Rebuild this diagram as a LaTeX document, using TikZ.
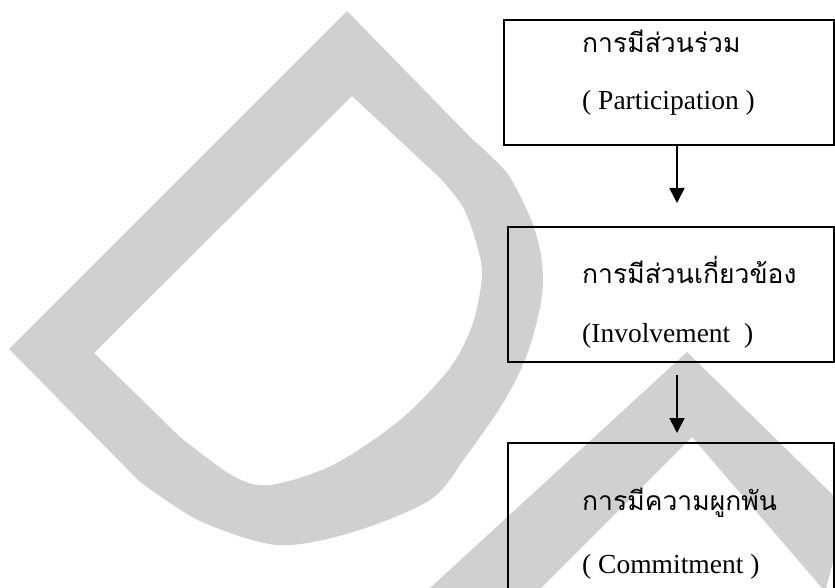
\documentclass[tikz,border=0pt]{standalone}
\usepackage{fontspec}
\setmainfont{Liberation Serif}
\newfontfamily\thaifont[Script=Thai]{Loma}
\usetikzlibrary{arrows.meta}
\definecolor{wm}{RGB}{208,208,208}
\tikzset{
  box/.style={draw=black, line width=1.8pt, fill=none, inner sep=0pt, outer sep=0pt, anchor=north west},
  thtxt/.style={anchor=base west, inner sep=0pt, font=\thaifont\fontsize{26.5}{30}\selectfont},
  entxt/.style={anchor=base west, inner sep=0pt, font=\fontsize{27.5}{32}\selectfont},
  arr/.style={line width=1.8pt, -{Triangle[width=15pt,length=15pt]}},
  wmfill/.style={fill=wm, draw=none, even odd rule}
}
\begin{document}
\begin{tikzpicture}[x=1pt,y=-1pt]
\useasboundingbox (0,0) rectangle (835,588);
\clip (0,0) rectangle (835,588);
% watermark D shape
\path[wmfill]
  (347,11) -- (9,349) -- plot[smooth] coordinates {(140,482) (200,521) (277,545) (350,533) (430,500) (467,455) (503,403) (525,360) (538,317) (543,283) (540,250) (530,217) (507,173) (473,140)} -- cycle
  (352,96) -- (94,353) -- plot[smooth] coordinates {(180,437) (233,476) (270,485) (333,465) (400,420) (450,368) (473,323) (482,276) (477,245) (463,207) (440,178)} -- cycle;
% watermark chevron
\path[wmfill]
  (430,588) -- (687,352) -- (835,497) -- (835,555) -- (826,588) -- (822,588) -- (692,437) -- (541,588) -- cycle;
% boxes
\node[box, minimum width=330pt, minimum height=125pt] (b1) at (504,20) {};
\node[box, minimum width=326pt, minimum height=135pt] (b2) at (508,227) {};
\node[box, minimum width=326pt, minimum height=180pt] (b3) at (508,443) {};
% texts
\node[thtxt] (t1) at (582,53) {การมีส่วนร่วม};
\node[entxt] (e1) at (582,110) {( Participation )};
\node[thtxt] (t2) at (582,283) {การมีส่วนเกี่ยวข้อง};
\node[entxt] (e2) at (582,342) {(Involvement\ \ )};
\node[thtxt] (t3) at (582,510) {การมีความผูกพัน};
\node[entxt] (e3) at (582,573) {( Commitment )};
% arrows
\coordinate (tip1) at (677,203);
\coordinate (tail2) at (677,375);
\coordinate (tip2) at (677,433);
\draw[arr] (b1.south west) ++(173,0) -- (tip1);
\draw[arr] (tail2) -- (tip2);
\end{tikzpicture}
\end{document}
